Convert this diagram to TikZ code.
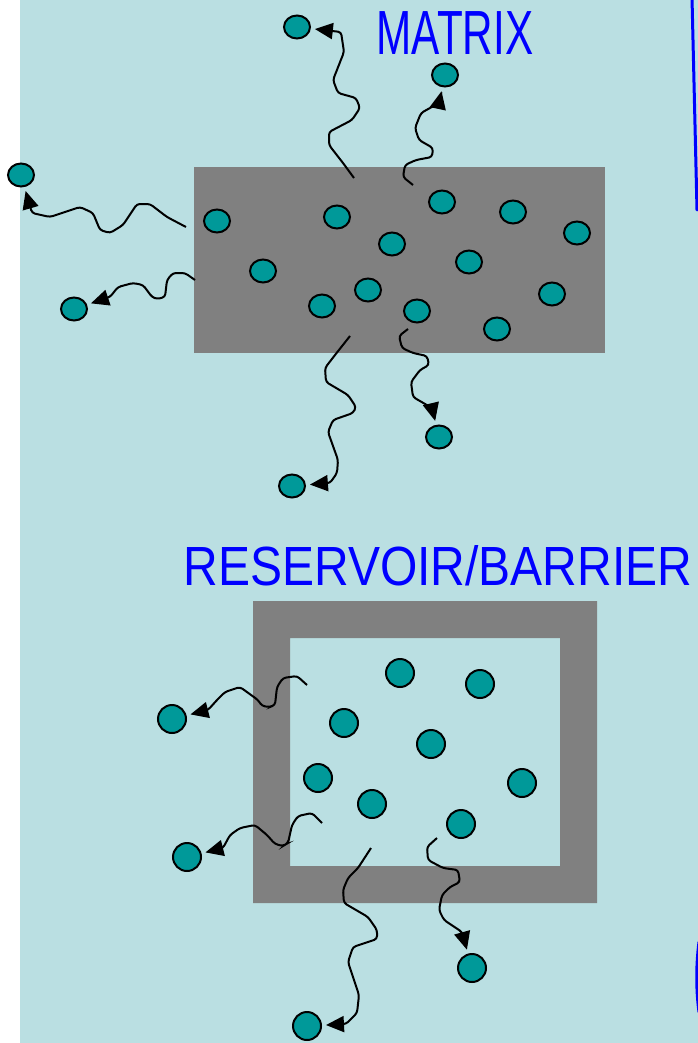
\documentclass[tikz,border=0pt]{standalone}
\usepackage{fontspec}
\setsansfont{Liberation Sans}
\usepackage{graphicx}
\usepackage{tikz}
\usetikzlibrary{arrows.meta,shapes.geometric}
\definecolor{bgblue}{RGB}{186,223,226}
\definecolor{slab}{RGB}{128,128,128}
\definecolor{grainteal}{RGB}{0,153,153}
\definecolor{penblue}{RGB}{0,0,255}

\begin{document}
\begin{tikzpicture}[
	x=1pt, y=-1pt,
	every node/.style={font=\sffamily},
	grain/.style={ellipse, draw, line width=2pt, fill=grainteal, minimum width=26pt, minimum height=23pt, inner sep=0pt},
	rgrain/.style={grain, minimum width=28pt, minimum height=28pt},
	walk/.style={-{Triangle[length=18pt,width=16pt]}, line width=2pt, rounded corners=3pt, shorten >=4pt},
	pen/.style={text=penblue, font=\fontsize{48}{48}\selectfont\sffamily, inner sep=0pt},
	penline/.style={draw=penblue, line width=3pt, line cap=round}
	]
	
	\useasboundingbox (0,0) rectangle (698,1043);
	\fill[white] (0,0) rectangle (20,1043);
	\fill[bgblue] (20,0) rectangle (698,1043);
	
	% matrix slab and reservoir frame
	\fill[slab] (194,167) rectangle (605,353);
	\fill[slab, even odd rule] (253,601) rectangle (597,903) (290,638) rectangle (560,866);
	
	\draw[penline] (692,-2) -- (697,210);
	\draw[penline] (699,942) .. controls (696,965) and (696,990) .. (699,1012);
	
	% particles inside the matrix
	\node[grain] (m1) at (217,221) {};
	\node[grain] (m2) at (337,217) {};
	\node[grain] (m3) at (442,202) {};
	\node[grain] (m4) at (513,212) {};
	\node[grain] (m5) at (577,233) {};
	\node[grain] (m6) at (392,244) {};
	\node[grain] (m7) at (263,271) {};
	\node[grain] (m8) at (469,262) {};
	\node[grain] (m9) at (368,290) {};
	\node[grain] (m10) at (322,306) {};
	\node[grain] (m11) at (417,311) {};
	\node[grain] (m12) at (552,294) {};
	\node[grain] (m13) at (497,329) {};
	
	% released from the matrix
	\node[grain] (o1) at (297,27) {};
	\node[grain] (o2) at (445,75) {};
	\node[grain] (o3) at (21,175) {};
	\node[grain] (o4) at (74,309) {};
	\node[grain] (o5) at (439,437) {};
	\node[grain] (o6) at (292,486) {};
	
	\coordinate (a0) at (354,178);
	\coordinate (b0) at (413,185);
	\coordinate (c0) at (186,227);
	\coordinate (d0) at (195,280);
	\coordinate (e0) at (350,336);
	\coordinate (f0) at (408,329);
	
	\draw[walk] (a0) -- (343,163) -- (329,145) -- (329,132) -- (352,120) -- (360,108) -- (356,98) -- (338,93) -- (333,80) -- (344,52) -- (341,32) -- (o1);
	\draw[walk] (b0) -- (403,177) -- (405,165) -- (416,160) -- (432,157) -- (433,148) -- (419,140) -- (415,128) -- (421,113) -- (439,103) -- (o2);
	\draw[walk] (c0) -- (167,217) -- (150,204) -- (137,204) -- (123,225) -- (110,233) -- (100,230) -- (93,213) -- (80,207) -- (50,217) -- (32,213) -- (o3);
	\draw[walk] (d0) -- (185,273) -- (173,273) -- (167,280) -- (165,297) -- (157,299) -- (152,297) -- (143,285) -- (133,283) -- (118,287) -- (110,297) -- (o4);
	\draw[walk] (e0) -- (335,355) -- (325,368) -- (326,382) -- (348,395) -- (356,407) -- (353,413) -- (333,420) -- (328,432) -- (338,460) -- (337,473) -- (330,483) -- (o6);
	\draw[walk] (f0) -- (399,336) -- (402,348) -- (413,353) -- (427,356) -- (429,365) -- (420,370) -- (411,382) -- (413,397) -- (432,408) -- (o5);
	
	% particles inside the reservoir
	\node[rgrain] (r1) at (400,673) {};
	\node[rgrain] (r2) at (480,684) {};
	\node[rgrain] (r3) at (344,723) {};
	\node[rgrain] (r4) at (431,744) {};
	\node[rgrain] (r5) at (318,778) {};
	\node[rgrain] (r6) at (522,783) {};
	\node[rgrain] (r7) at (372,804) {};
	\node[rgrain] (r8) at (461,824) {};
	
	% through the barrier
	\node[rgrain] (q1) at (172,719) {};
	\node[rgrain] (q2) at (187,857) {};
	\node[rgrain] (q3) at (472,968) {};
	\node[rgrain] (q4) at (307,1026) {};
	
	\coordinate (g0) at (307,685);
	\coordinate (h0) at (322,823);
	\coordinate (i0) at (371,848);
	\coordinate (j0) at (437,838);
	
	\draw[walk] (g0) -- (297,676) -- (283,678) -- (277,687) -- (275,705) -- (270,707) -- (262,706) -- (258,700) -- (240,687) -- (225,692) -- (217,700) -- (208,710) -- (q1);
	\draw[walk] (h0) -- (312,813) -- (298,816) -- (292,825) -- (288,843) -- (283,846) -- (275,844) -- (267,835) -- (255,825) -- (240,828) -- (230,835) -- (223,848) -- (q2);
	\draw[walk] (i0) -- (358,868) -- (348,878) -- (343,890) -- (344,903) -- (368,917) -- (377,930) -- (377,939) -- (353,947) -- (348,962) -- (359,995) -- (357,1013) -- (346,1024) -- (q4);
	\draw[walk] (j0) -- (427,847) -- (428,860) -- (443,868) -- (458,870) -- (460,882) -- (450,887) -- (442,895) -- (439,910) -- (444,920) -- (462,932) -- (q3);
	
	\node[pen] (matrix) at (455,33) {\scalebox{0.88}[1.3]{MATRIX}};
	\node[pen] (reservoir) at (438,566) {\scalebox{1}[1.15]{RESERVOIR/BARRIER}};
	
\end{tikzpicture}
\end{document}
